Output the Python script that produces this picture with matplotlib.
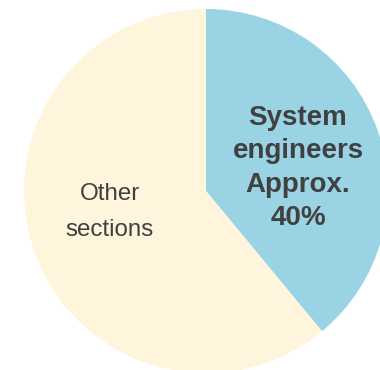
import matplotlib
matplotlib.use("Agg")
import matplotlib.pyplot as plt

labels = ["System\nengineers\nApprox.\n40%", "Other\nsections"]
values = [39, 61]
colors = ["#9AD4E4", "#FEF5DC"]

W, H = 380, 370
fig = plt.figure(figsize=(W / 100, H / 100), dpi=100)
ax = fig.add_axes([0, 0, 1, 1])
cx, cy, r = 206, H - 191, 182
ax.pie(values, colors=colors, startangle=90, counterclock=False,
       center=(cx, cy), radius=r, wedgeprops=dict(linewidth=0))
ax.set_xlim(0, W)
ax.set_ylim(0, H)
ax.set_aspect("equal")
ax.axis("off")

ax.text(298, H - 168, labels[0], ha="center", va="center", fontsize=20,
        fontweight="bold", color="#404040", family="Liberation Sans",
        linespacing=1.37)
ax.text(110, H - 212, labels[1], ha="center", va="center", fontsize=17.4,
        color="#404040", family="Liberation Sans", linespacing=1.85)

fig.savefig("out.png", dpi=100)
